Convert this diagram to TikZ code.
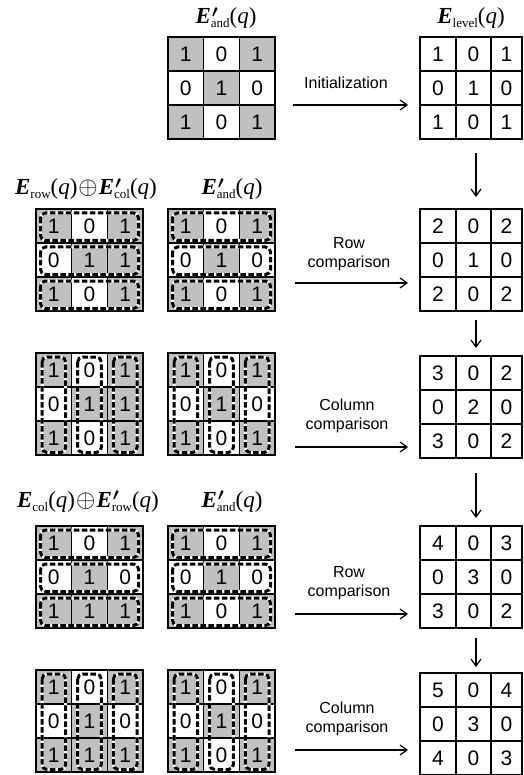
\documentclass[tikz,border=0pt]{standalone}
\usepackage{amsmath}
\usepackage{fontspec}
\setmainfont{Liberation Serif}
\newfontfamily\sansfont{Liberation Sans}
\usetikzlibrary{arrows.meta}
\definecolor{cellgray}{RGB}{192,192,192}

\tikzset{
  cell/.style={draw=black, line width=1.4pt, minimum height=34pt, inner sep=0pt,
    outer sep=0pt, font=\sansfont\fontsize{21}{21}\selectfont},
  outline/.style={draw=black, line width=3pt, dash pattern=on 5.5pt off 2.5pt,
    rounded corners=5pt, preaction={draw=white, solid, line width=3pt}},
  arr/.style={-{Straight Barb[length=7pt,width=10pt]}, line width=1.2pt},
  steplabel/.style={font=\sansfont\fontsize{16}{18.5}\selectfont, align=center, inner sep=0pt},
  title/.style={font=\fontsize{23}{23}\selectfont, inner sep=0pt, anchor=base},
}

% bold italic matrix symbol with subscript, optionally primed
\newcommand\Ebf{\textbf{\textit{E}}}
\newcommand\Esub[1]{\raisebox{-4pt}{\fontsize{13}{13}\selectfont #1}}
\newcommand\Epr[1]{\Ebf\rlap{\kern1pt\raisebox{-3pt}{${}^{\boldsymbol{\prime}}$}}\Esub{#1}}
\newcommand\Epl[1]{\Ebf\Esub{#1}}
\newcommand\ofq{(\textit{q})}
\newcommand\xor{\kern1pt$\oplus$\kern1pt}

% column borders of the grid being drawn
\newcommand\usecols[4]{\def\xa{#1}\def\xb{#2}\def\xc{#3}\def\xd{#4}}

% one cell: name, left x, right x, centre y, value, shaded flag
\newcommand\mcell[6]{%
  \ifnum#6=1 \ifnum#5=1 \def\cf{cellgray}\else\def\cf{white}\fi\else\def\cf{white}\fi
  \node[cell, fill=\cf, minimum width={#3-#2}] (#1) at ({(#2+#3)/2},#4) {#5};
}

% a 3x3 grid: name, top y, shaded flag, rows a/b/c
\newcommand\matgrid[4]{%
  \foreach \va/\vb/\vc [count=\r] in {#4} {
    \pgfmathsetmacro\yc{#2+34*(\r-1)+17}
    \mcell{#1-\r-1}{\xa}{\xb}{\yc}{\va}{#3}
    \mcell{#1-\r-2}{\xb}{\xc}{\yc}{\vb}{#3}
    \mcell{#1-\r-3}{\xc}{\xd}{\yc}{\vc}{#3}
  }
}

% dashed groupings of rows / columns
\newcommand\rowboxes[1]{%
  \foreach \r in {1,2,3}
    \draw[outline] ([shift={(4.5pt,-4pt)}]#1-\r-1.north west) rectangle ([shift={(-4.5pt,2.5pt)}]#1-\r-3.south east);
}
\newcommand\colboxes[1]{%
  \foreach \c in {1,2,3}
    \draw[outline] ([shift={(6pt,-4pt)}]#1-1-\c.north west) rectangle ([shift={(-6pt,2.5pt)}]#1-3-\c.south east);
}

\begin{document}
\begin{tikzpicture}[x=1pt, y=-1pt]
\useasboundingbox[fill=white] (0,0) rectangle (523,775);

% titles
\node[title] (t-and0) at (226,24) {\Epr{and}\ofq};
\node[title] (t-level) at (471,24) {\Epl{level}\ofq};
\node[title] (t-rowcol) at (86,195) {\Epl{row}\ofq\xor\Epr{col}\ofq};
\node[title] (t-and1) at (232,195) {\Epr{and}\ofq};
\node[title] (t-colrow) at (88,507) {\Epl{col}\ofq\xor\Epr{row}\ofq};
\node[title] (t-and2) at (232,507) {\Epr{and}\ofq};

% initial mask and level map
\usecols{168}{203.67}{239.33}{275}
\matgrid{M0}{37}{1}{1/0/1,0/1/0,1/0/1}

\usecols{420}{456}{491}{522}
\matgrid{L1}{37}{0}{1/0/1,0/1/0,1/0/1}
\matgrid{L2}{209}{0}{2/0/2,0/1/0,2/0/2}
\matgrid{L3}{356}{0}{3/0/2,0/2/0,3/0/2}
\matgrid{L4}{526}{0}{4/0/3,0/3/0,3/0/2}
\matgrid{L5}{673}{0}{5/0/4,0/3/0,4/0/3}

% left-hand operand grids
\usecols{36}{71.67}{107.33}{143}
\matgrid{RA1}{209}{1}{1/0/1,0/1/1,1/0/1}
\matgrid{CA1}{353}{1}{1/0/1,0/1/1,1/0/1}
\matgrid{RA2}{526}{1}{1/0/1,0/1/0,1/1/1}
\matgrid{CA2}{670}{1}{1/0/1,0/1/0,1/1/1}

\usecols{168}{203.67}{239.33}{275}
\matgrid{RB1}{209}{1}{1/0/1,0/1/0,1/0/1}
\matgrid{CB1}{353}{1}{1/0/1,0/1/0,1/0/1}
\matgrid{RB2}{526}{1}{1/0/1,0/1/0,1/0/1}
\matgrid{CB2}{670}{1}{1/0/1,0/1/0,1/0/1}

\rowboxes{RA1}\rowboxes{RB1}
\colboxes{CA1}\colboxes{CB1}
\rowboxes{RA2}\rowboxes{RB2}
\colboxes{CA2}\colboxes{CB2}

% step arrows and their labels
\coordinate (h0s) at (293,105); \coordinate (h0e) at (408,105);
\coordinate (h1s) at (295,283); \coordinate (h1e) at (408,283);
\coordinate (h2s) at (295,447); \coordinate (h2e) at (408,447);
\coordinate (h3s) at (295,614); \coordinate (h3e) at (408,614);
\coordinate (h4s) at (295,750); \coordinate (h4e) at (408,750);
\draw[arr] (h0s) -- (h0e);
\draw[arr] (h1s) -- (h1e);
\draw[arr] (h2s) -- (h2e);
\draw[arr] (h3s) -- (h3e);
\draw[arr] (h4s) -- (h4e);

\node[steplabel, anchor=base] (lab0) at (346,89) {Initialization};
\node[steplabel] (lab1) at (349,254) {Row\\comparison};
\node[steplabel] (lab2) at (347,416) {Column\\comparison};
\node[steplabel] (lab3) at (349,583) {Row\\comparison};
\node[steplabel] (lab4) at (347,719) {Column\\comparison};

% level map updates
\draw[arr] ([xshift=2.5pt,yshift=-14pt]L1-3-2.south) -- ([xshift=2.5pt,yshift=12pt]L2-1-2.north);
\draw[arr] ([xshift=2.5pt,yshift=-9pt]L2-3-2.south) -- ([xshift=2.5pt,yshift=8pt]L3-1-2.north);
\draw[arr] ([xshift=2.5pt,yshift=-15pt]L3-3-2.south) -- ([xshift=2.5pt,yshift=8pt]L4-1-2.north);
\draw[arr] ([xshift=2.5pt,yshift=-10pt]L4-3-2.south) -- ([xshift=2.5pt,yshift=6pt]L5-1-2.north);
\end{tikzpicture}
\end{document}
